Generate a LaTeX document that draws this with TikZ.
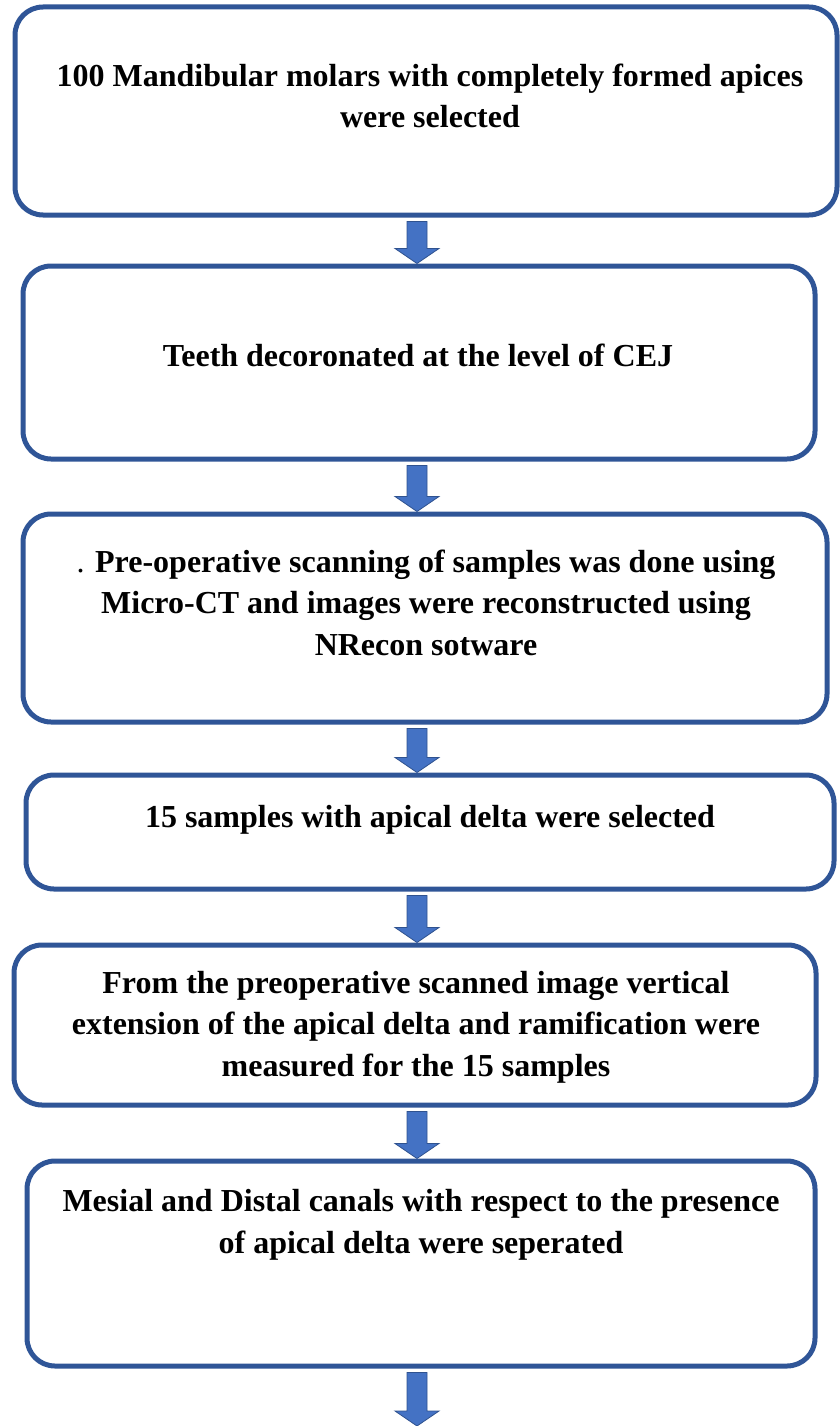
\documentclass[tikz,border=0pt]{standalone}
\usepackage{fontspec}
\setmainfont{Liberation Serif}
\usepackage{xcolor}
\usepackage{tikz}
\usetikzlibrary{calc}
\definecolor{BoxBlue}{RGB}{47,85,151}
\definecolor{ArrowBlue}{RGB}{68,114,196}
\definecolor{ArrowEdge}{RGB}{47,82,143}

\tikzset{
	stepbox/.style={draw=BoxBlue, line width=5pt, rounded corners=28pt},
	steptext/.style={align=center, inner sep=0pt, anchor=base, font=\bfseries\fontsize{32}{41.5}\selectfont},
	blockarrow/.style={draw=ArrowEdge, fill=ArrowBlue, line width=0.8pt,
		to path={let \p1=(\tikztostart), \p2=(\tikztotarget) in
			(\x1-10pt,\y1-4pt) -- (\x1-10pt,\y2+15pt) -- (\x1-22pt,\y2+15pt) -- (\x1,\y2)
			-- (\x1+22pt,\y2+15pt) -- (\x1+10pt,\y2+15pt) -- (\x1+10pt,\y1-4pt) -- cycle}}
}

\begin{document}
\begin{tikzpicture}[x=1pt, y=-1pt]
		\useasboundingbox (0,0) rectangle (839,1426);
		\coordinate (ax) at (417,0);
		
		% boxes
		\node[stepbox, minimum width=822pt, minimum height=208pt] (b1) at (426,111) {};
		\node[stepbox, minimum width=792pt, minimum height=193pt] (b2) at (419,362.5) {};
		\node[stepbox, minimum width=804pt, minimum height=208pt] (b3) at (425,618) {};
		\node[stepbox, minimum width=808pt, minimum height=114pt] (b4) at (430,832) {};
		\node[stepbox, minimum width=802pt, minimum height=160pt] (b5) at (415,1025) {};
		\node[stepbox, minimum width=788pt, minimum height=205pt] (b6) at (421,1263.5) {};
		
		% texts (base = last line)
		\node[steptext] (t1) at (430,128) {100 Mandibular molars with completely formed apices\\were selected};
		\node[steptext] (t2) at (418,366) {Teeth decoronated at the level of CEJ};
		\node[steptext] (t3) at (426,655) {{\mdseries .} Pre-operative scanning of samples was done using\\Micro-CT and images were reconstructed using\\NRecon sotware};
		\node[steptext] (t4) at (430,827) {15 samples with apical delta were selected};
		\node[steptext] (t5) at (416,1076) {From the preoperative scanned image vertical\\extension of the apical delta and ramification were\\measured for the 15 samples};
		\node[steptext] (t6) at (421,1253) {Mesial and Distal canals with respect to the presence\\of apical delta were seperated};
		
		% arrows
		\coordinate (pageend) at (417,1426);
		\draw[blockarrow] (b1.south -| ax) to (b2.north -| ax);
		\draw[blockarrow] (b2.south -| ax) to (b3.north -| ax);
		\draw[blockarrow] (b3.south -| ax) to (b4.north -| ax);
		\draw[blockarrow] (b4.south -| ax) to (b5.north -| ax);
		\draw[blockarrow] (b5.south -| ax) to (b6.north -| ax);
		\draw[blockarrow] (b6.south -| ax) to (pageend);
	\end{tikzpicture}
\end{document}
